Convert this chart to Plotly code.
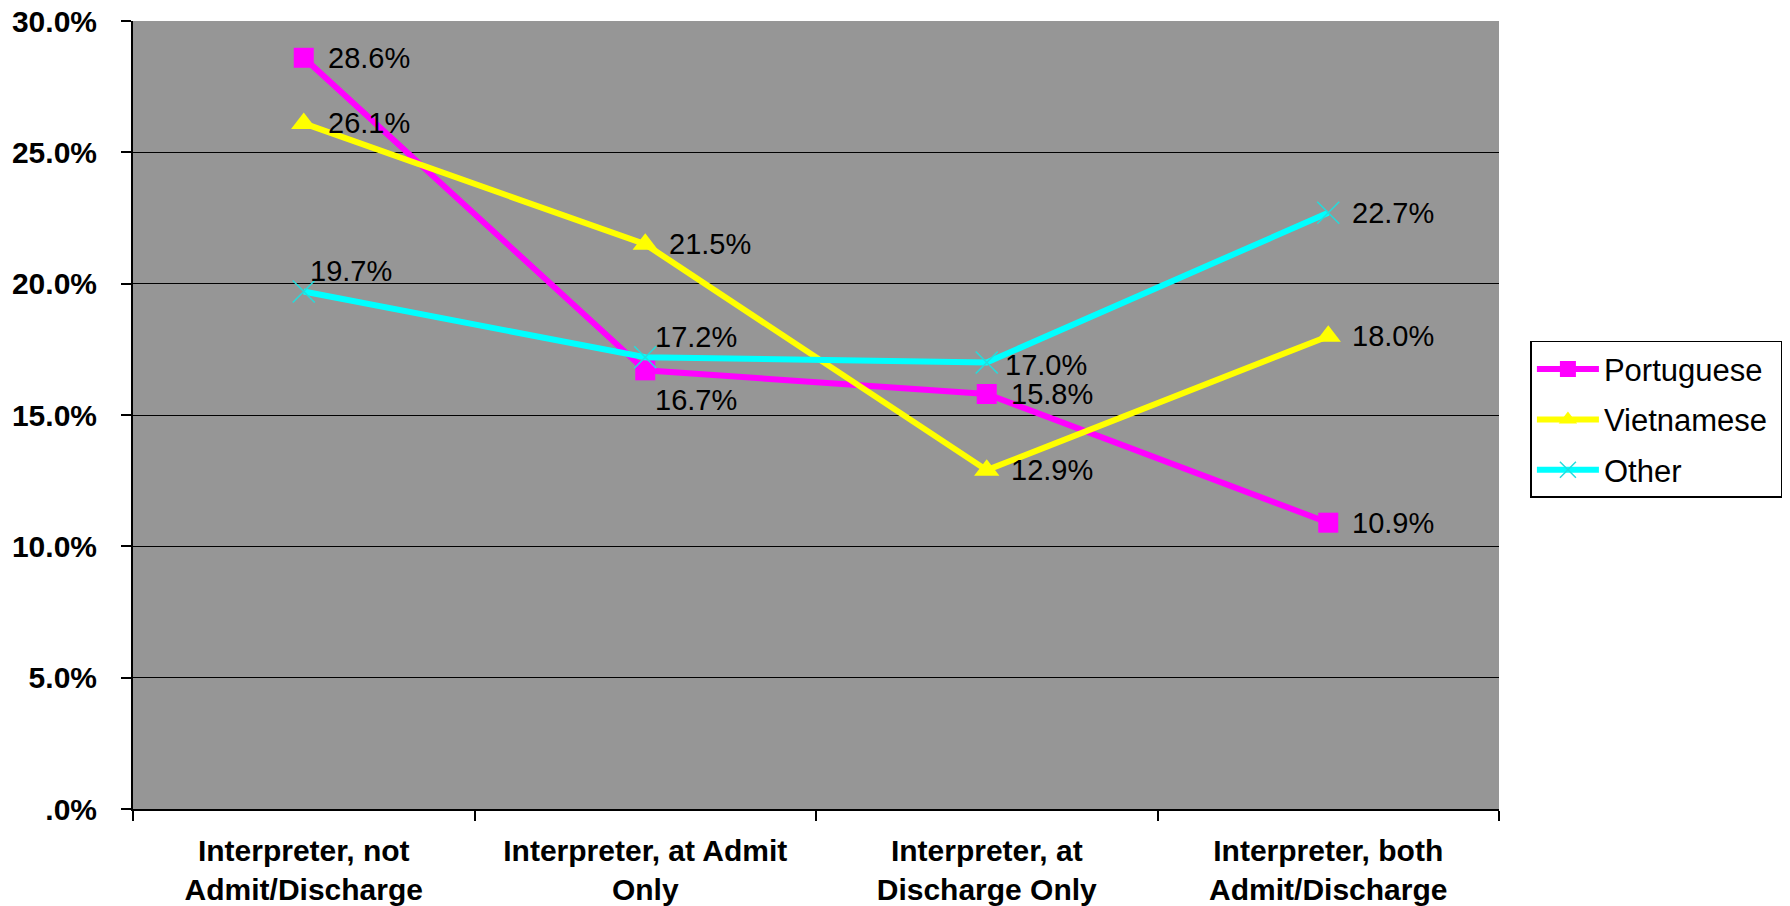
import plotly.graph_objects as go

# Categories and series values (percent)
categories = [
    "Interpreter, not<br>Admit/Discharge",
    "Interpreter, at Admit<br>Only",
    "Interpreter, at<br>Discharge Only",
    "Interpreter, both<br>Admit/Discharge",
]
series_names = ["Portuguese", "Vietnamese", "Other"]
portuguese = [28.6, 16.7, 15.8, 10.9]
vietnamese = [26.1, 21.5, 12.9, 18.0]
other = [19.7, 17.2, 17.0, 22.7]

y_tick_values = [0, 5, 10, 15, 20, 25, 30]
y_tick_labels = [".0%", "5.0%", "10.0%", "15.0%", "20.0%", "25.0%", "30.0%"]

FONT = "Liberation Sans, Arial, sans-serif"
PAD = "\u00a0"  # right padding inside the legend box

fig = go.Figure()

fig.add_trace(go.Scatter(
    x=categories, y=portuguese, name=series_names[0] + PAD, mode="lines+markers",
    legendgroup="p",
    line=dict(color="#FF00FF", width=6),
    marker=dict(symbol="square", size=20, color="#FF00FF"),
))
fig.add_trace(go.Scatter(
    x=categories, y=vietnamese, name=series_names[1] + PAD, mode="lines+markers",
    legendgroup="v",
    line=dict(color="#FFFF00", width=6),
    marker=dict(symbol="triangle-up", size=22, color="#FFFF00"),
))
fig.add_trace(go.Scatter(
    x=categories, y=other, name=series_names[2] + PAD, mode="lines+markers",
    legendgroup="o",
    line=dict(color="#00FFFF", width=6),
    marker=dict(symbol="x-thin", size=22, color="#00FFFF",
                line=dict(color="#22DDDD", width=1.5)),
))

# Per-point label offsets (pixels) for the value labels
offsets = {
    "Portuguese": [(22, 0), (8, -30), (22, 0), (22, 0)],
    "Vietnamese": [(22, 0), (22, 0), (22, 0), (22, 0)],
    "Other": [(4, 21), (8, 20), (16, -3), (22, 0)],
}
for name, vals in zip(series_names, (portuguese, vietnamese, other)):
    for i, v in enumerate(vals):
        dx, dy = offsets[name][i]
        fig.add_annotation(
            x=categories[i], y=v, text=f"{v:.1f}%", showarrow=False,
            xanchor="left", yanchor="middle", xshift=dx, yshift=dy,
            font=dict(family=FONT, size=29, color="black"),
        )

fig.update_layout(
    width=1790, height=906,
    margin=dict(l=133, r=291, t=21, b=97, autoexpand=False),
    paper_bgcolor="white", plot_bgcolor="#969696",
    showlegend=True,
    legend=dict(
        x=1.023, y=0.594, xanchor="left", yanchor="top",
        bgcolor="white", bordercolor="black", borderwidth=1.5,
        font=dict(family=FONT, size=31, color="black"),
        itemsizing="trace", itemwidth=62,
        tracegroupgap=7, traceorder="grouped",
    ),
    font=dict(family=FONT, color="black"),
)

fig.update_xaxes(
    type="category", range=[-0.5, 3.5], automargin=False,
    tickson="boundaries", ticks="outside", ticklen=10, tickwidth=2, tickcolor="black",
    showgrid=False, showline=True, linecolor="black", linewidth=2, mirror=False,
    tickfont=dict(family=FONT, size=30, color="black", weight="bold"),
    ticklabelstandoff=14,
)
fig.update_yaxes(
    range=[0, 30], tickvals=y_tick_values, ticktext=y_tick_labels, automargin=False,
    ticks="outside", ticklen=10, tickwidth=2, tickcolor="black",
    showgrid=True, gridcolor="black", gridwidth=1,
    showline=True, linecolor="black", linewidth=2, zeroline=False,
    tickfont=dict(family=FONT, size=30, color="black", weight="bold"),
    ticklabelstandoff=18,
)

fig.write_html("out.html")
